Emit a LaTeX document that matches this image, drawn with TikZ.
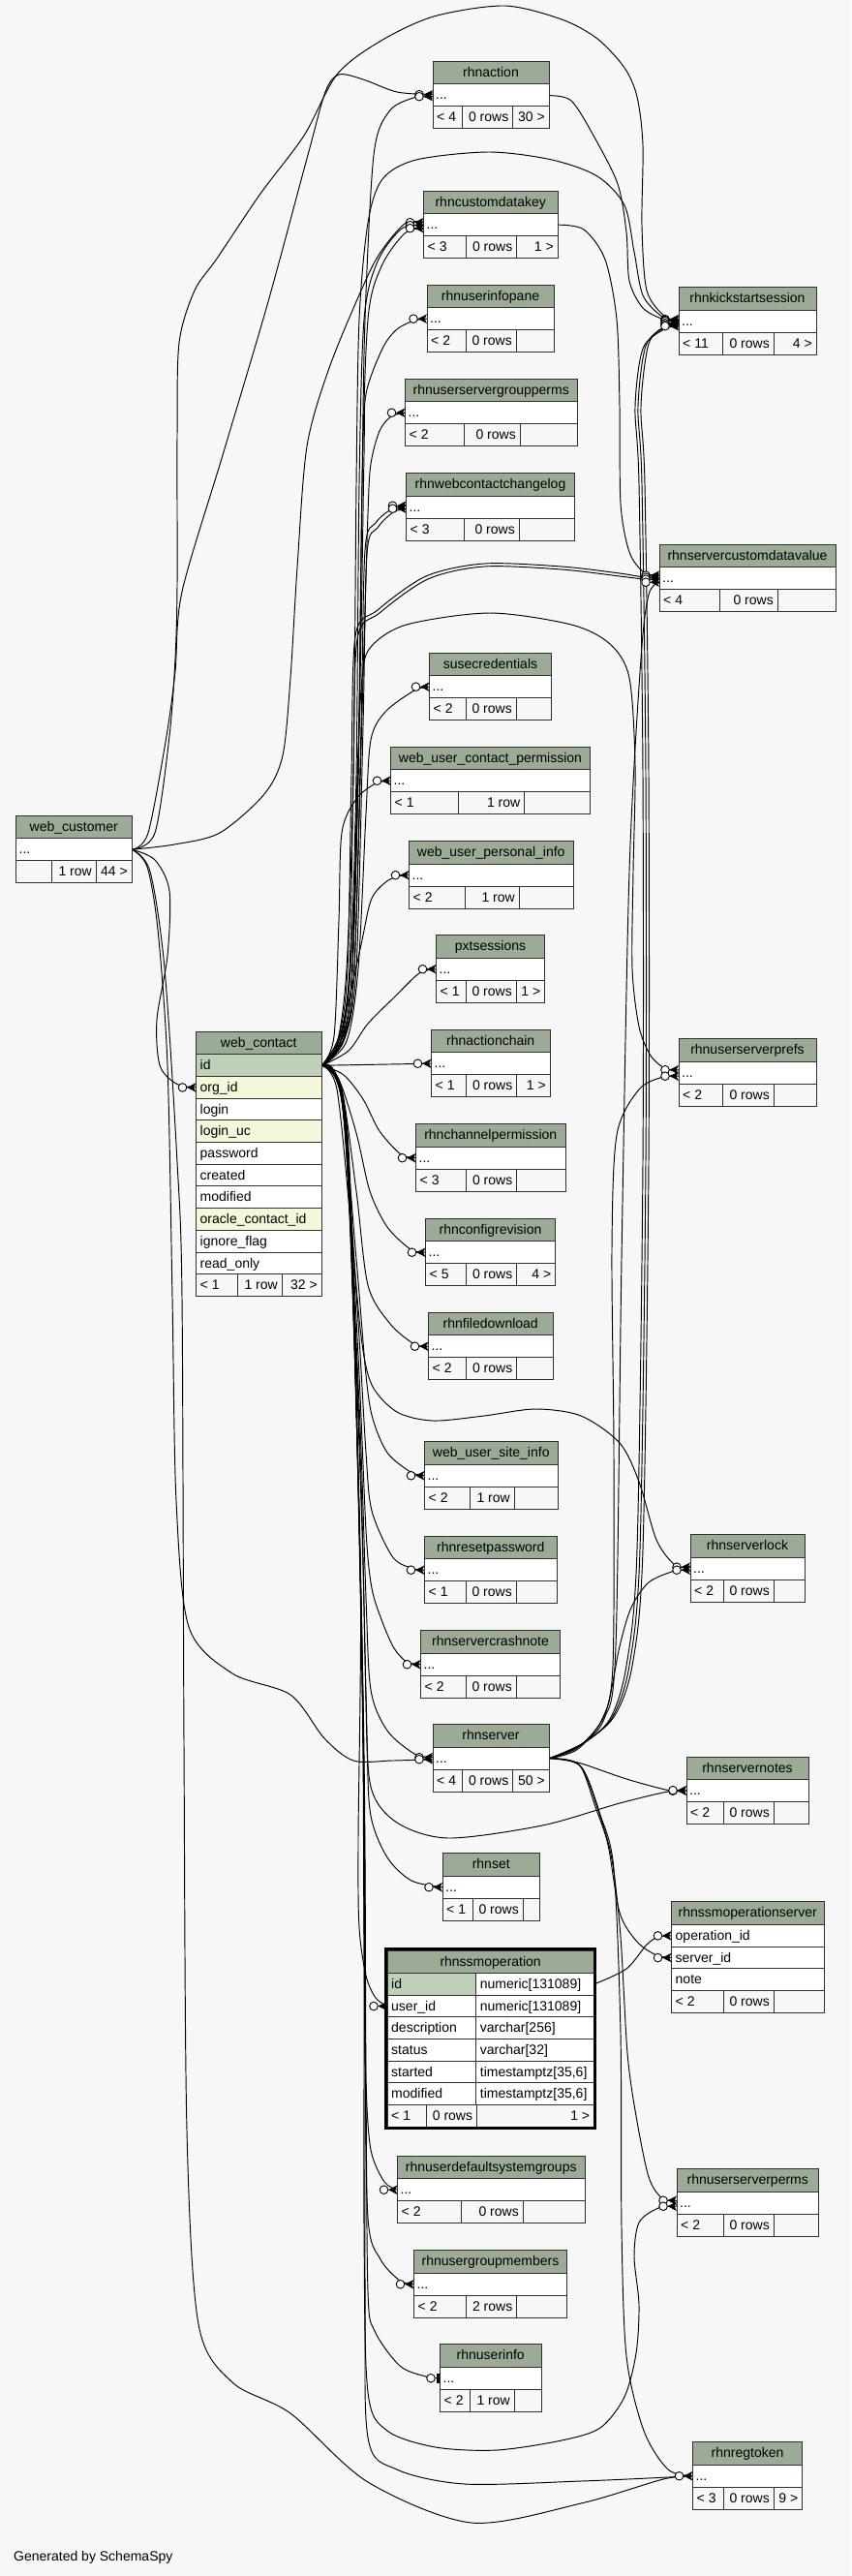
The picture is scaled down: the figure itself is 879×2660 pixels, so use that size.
\documentclass[tikz,border=0pt]{standalone}
\usepackage{fontspec}
\setmainfont{Liberation Sans}
\usetikzlibrary{calc}
\definecolor{bgc}{HTML}{F7F7F7}
\definecolor{hdrc}{HTML}{9BAB96}
\definecolor{pkc}{HTML}{BED1B8}
\definecolor{ixc}{HTML}{F4F7DA}
\definecolor{brd}{HTML}{303030}
\pgfdeclarelayer{back}
\pgfdeclarelayer{links}
\pgfsetlayers{back,links,main}
\tikzset{
  bd/.style={draw=brd, line width=1pt},
  txt/.style={inner sep=0pt, font=\fontsize{14}{16}\selectfont, text=black},
  rel/.style={draw=black, line width=0.95pt},
  crowo/.pic={\fill[black] (-9.5,0) -- (0,-4.8) -- (-2.5,0) -- (0,4.8) -- cycle;
              \draw[black,line width=0.9pt,fill=white] (-14,0) circle [radius=4.3pt];},
  teeo/.pic={\fill[black] (-3.2,-4.8) rectangle (-0.4,4.8);
             \draw[black,line width=0.9pt,fill=white] (-9.5,0) circle [radius=4.3pt];}
}
% id, x1, y1, x2, div1, div2, left, mid, right
\newcommand\mktable[9]{%
  \pgfmathsetmacro\tya{#3+23.5}%
  \pgfmathsetmacro\tyb{#3+46.5}%
  \pgfmathsetmacro\tyc{#3+69.5}%
  \pgfmathsetmacro\tw{#4-#2}%
  \pgfmathsetmacro\tmx{(#2+#4)/2}%
  \filldraw[bd,fill=hdrc] (#2,#3) rectangle (#4,\tya);
  \filldraw[bd,fill=white] (#2,\tya) rectangle (#4,\tyb);
  \filldraw[bd,fill=bgc] (#2,\tyb) rectangle (#4,\tyc);
  \draw[bd] (#5,\tyb) -- (#5,\tyc) (#6,\tyb) -- (#6,\tyc);
  \node[txt,anchor=base] (#1) at (\tmx,#3+16) {\detokenize{#1}};
  \node[inner sep=0pt,minimum width=\tw pt,minimum height=23pt,anchor=north west] (#1-r) at (#2,\tya) {};
  \node[txt,anchor=base west] (#1-d) at (#2+3,\tya+16) {...};
  \node[txt,anchor=base west] (#1-f1) at (#2+4,\tyb+16) {#7};
  \node[txt,anchor=base east] (#1-f2) at (#6-4,\tyb+16) {#8};
  \node[txt,anchor=base east] (#1-f3) at (#4-4,\tyb+16) {#9};
}
% name, x1, x2, ytop, fill, text
\newcommand\mkrow[6]{%
  \pgfmathsetmacro\tw{#3-#2}%
  \filldraw[bd,fill=#5] (#2,#4) rectangle (#3,#4+22.7);
  \node[inner sep=0pt,minimum width=\tw pt,minimum height=22.7pt,anchor=north west] (#1) at (#2,#4) {};
  \node[txt,anchor=base west] (#1-t) at (#2+4,#4+16) {#6};
}
\begin{document}
\begin{tikzpicture}[x=1pt,y=-1pt]
\useasboundingbox (0,0) rectangle (879,2660);
\begin{pgfonlayer}{back}
\fill[bgc] (0,0) rectangle (879,2660);
\end{pgfonlayer}

% ---------- tables ----------
\mktable{rhnaction}{447}{63.5}{567}{477}{529.5}{< 4}{0 rows}{30 >}
\mktable{rhncustomdatakey}{437.5}{197}{576}{481}{533.5}{< 3}{0 rows}{1 >}
\mktable{rhnuserinfopane}{441}{294}{572}{481}{533}{< 2}{0 rows}{}
\mktable{rhnuserservergroupperms}{418.5}{391}{596}{479}{537}{< 2}{0 rows}{}
\mktable{rhnwebcontactchangelog}{419.5}{488.5}{593.5}{479}{536}{< 3}{0 rows}{}
\mktable{rhnkickstartsession}{701}{296.5}{843}{746.5}{799}{< 11}{0 rows}{4 >}
\mktable{rhnservercustomdatavalue}{681}{562}{863}{743}{803}{< 4}{0 rows}{}
\mktable{susecredentials}{443.5}{674}{569.5}{481}{533}{< 2}{0 rows}{}
\mktable{web_user_contact_permission}{403.5}{771}{609.5}{473}{541.5}{< 1}{1 row}{}
\mktable{web_user_personal_info}{422.5}{868.5}{592}{480}{536}{< 2}{1 row}{}
\mktable{pxtsessions}{450.5}{965.5}{562.5}{481}{533}{< 1}{0 rows}{1 >}
\mktable{rhnactionchain}{445.5}{1063}{568}{481}{533.5}{< 1}{0 rows}{1 >}
\mktable{rhnuserserverprefs}{701}{1072.5}{843}{746.5}{799}{< 2}{0 rows}{}
\mktable{rhnchannelpermission}{429.5}{1160.5}{584}{481}{533.5}{< 3}{0 rows}{}
\mktable{rhnconfigrevision}{439.5}{1258}{573.5}{481}{533.5}{< 5}{0 rows}{4 >}
\mktable{rhnfiledownload}{442.5}{1355}{571}{481}{533.5}{< 2}{0 rows}{}
\mktable{web_user_site_info}{438.5}{1488.5}{576}{485.5}{531}{< 2}{1 row}{}
\mktable{rhnresetpassword}{438.5}{1586}{575}{481}{533}{< 1}{0 rows}{}
\mktable{rhnserverlock}{713}{1584.5}{831}{747}{799}{< 2}{0 rows}{}
\mktable{rhnservercrashnote}{434.5}{1683.5}{578.5}{481}{533}{< 2}{0 rows}{}
\mktable{rhnserver}{447}{1780.5}{567}{477.5}{529.5}{< 4}{0 rows}{50 >}
\mktable{rhnservernotes}{709}{1814}{835}{747}{799}{< 2}{0 rows}{}
\mktable{rhnset}{457}{1913.5}{557.5}{488}{540}{< 1}{0 rows}{}
\mktable{rhnuserdefaultsystemgroups}{410.5}{2226}{604}{476}{540}{< 2}{0 rows}{}
\mktable{rhnuserserverperms}{699}{2239.5}{845.5}{747}{799}{< 2}{0 rows}{}
\mktable{rhnusergroupmembers}{427.5}{2323.5}{585.5}{481}{533.5}{< 2}{2 rows}{}
\mktable{rhnuserinfo}{454.5}{2420.5}{559}{485.5}{531}{< 2}{1 row}{}
\mktable{rhnregtoken}{715.5}{2521.5}{828.5}{747}{799}{< 3}{0 rows}{9 >}
\mktable{web_customer}{16.5}{842}{136}{53}{99}{}{1 row}{44 >}

% web_contact
\filldraw[bd,fill=hdrc] (202.5,1065) rectangle (332,1088.7);
\node[txt,anchor=base] (web_contact) at (267.25,1081) {web\_contact};
\mkrow{web_contact-id}{202.5}{332}{1088.7}{pkc}{id}
\mkrow{web_contact-org}{202.5}{332}{1111.4}{ixc}{org\_id}
\mkrow{web_contact-login}{202.5}{332}{1134.1}{white}{login}
\mkrow{web_contact-loginuc}{202.5}{332}{1156.8}{ixc}{login\_uc}
\mkrow{web_contact-password}{202.5}{332}{1179.5}{white}{password}
\mkrow{web_contact-created}{202.5}{332}{1202.2}{white}{created}
\mkrow{web_contact-modified}{202.5}{332}{1224.9}{white}{modified}
\mkrow{web_contact-oracle}{202.5}{332}{1247.6}{ixc}{oracle\_contact\_id}
\mkrow{web_contact-ignore}{202.5}{332}{1270.3}{white}{ignore\_flag}
\mkrow{web_contact-readonly}{202.5}{332}{1293}{white}{read\_only}
\filldraw[bd,fill=bgc] (202.5,1315.7) rectangle (332,1338.4);
\draw[bd] (245,1315.7) -- (245,1338.4) (291,1315.7) -- (291,1338.4);
\node[txt,anchor=base west] (web_contact-f1) at (206.5,1331.7) {< 1};
\node[txt,anchor=base east] (web_contact-f2) at (287,1331.7) {1 row};
\node[txt,anchor=base east] (web_contact-f3) at (328,1331.7) {32 >};

% rhnssmoperationserver
\filldraw[bd,fill=hdrc] (693.5,1963.5) rectangle (851,1987.3);
\node[txt,anchor=base] (rhnssmoperationserver) at (772.25,1979.5) {rhnssmoperationserver};
\mkrow{rhnssmoperationserver-operation_id}{693.5}{851}{1987.3}{white}{operation\_id}
\mkrow{rhnssmoperationserver-server_id}{693.5}{851}{2010}{white}{server\_id}
\mkrow{rhnssmoperationserver-note}{693.5}{851}{2032.7}{white}{note}
\filldraw[bd,fill=bgc] (693.5,2055.4) rectangle (851,2078.1);
\draw[bd] (747,2055.4) -- (747,2078.1) (799,2055.4) -- (799,2078.1);
\node[txt,anchor=base west] (rhnssmoperationserver-f1) at (697.5,2071.4) {< 2};
\node[txt,anchor=base east] (rhnssmoperationserver-f2) at (795,2071.4) {0 rows};

% rhnssmoperation (focus table)
\filldraw[bd,fill=hdrc] (400,2014) rectangle (613.3,2037.3);
\node[txt,anchor=base] (rhnssmoperation) at (506.65,2030) {rhnssmoperation};
\mkrow{rhnssmoperation-id}{400}{491.7}{2037.3}{pkc}{id}
\mkrow{rhnssmoperation-id-ty}{491.7}{613.3}{2037.3}{white}{numeric[131089]}
\mkrow{rhnssmoperation-user_id}{400}{491.7}{2060}{white}{user\_id}
\mkrow{rhnssmoperation-user_id-ty}{491.7}{613.3}{2060}{white}{numeric[131089]}
\mkrow{rhnssmoperation-description}{400}{491.7}{2082.7}{white}{description}
\mkrow{rhnssmoperation-description-ty}{491.7}{613.3}{2082.7}{white}{varchar[256]}
\mkrow{rhnssmoperation-status}{400}{491.7}{2105.4}{white}{status}
\mkrow{rhnssmoperation-status-ty}{491.7}{613.3}{2105.4}{white}{varchar[32]}
\mkrow{rhnssmoperation-started}{400}{491.7}{2128.1}{white}{started}
\mkrow{rhnssmoperation-started-ty}{491.7}{613.3}{2128.1}{white}{timestamptz[35,6]}
\mkrow{rhnssmoperation-modified}{400}{491.7}{2150.8}{white}{modified}
\mkrow{rhnssmoperation-modified-ty}{491.7}{613.3}{2150.8}{white}{timestamptz[35,6]}
\filldraw[bd,fill=bgc] (400,2173.5) rectangle (613.3,2196.2);
\draw[bd] (440,2173.5) -- (440,2196.2) (492.3,2173.5) -- (492.3,2196.2);
\node[txt,anchor=base west] (rhnssmoperation-f1) at (404,2189.5) {< 1};
\node[txt,anchor=base east] (rhnssmoperation-f2) at (488.3,2189.5) {0 rows};
\node[txt,anchor=base east] (rhnssmoperation-f3) at (609.3,2189.5) {1 >};
\draw[black,line width=3pt] (398.3,2012.5) rectangle (614.8,2197.6);

\node[txt,anchor=base west] (gen) at (14,2644) {Generated by SchemaSpy};

% ---------- connectors ----------
\begin{pgfonlayer}{links}
% from web_customer
\draw[rel] plot[smooth] coordinates {(web_customer-r.east) (153,860) (172,760) (181,693) (188,611) (230,470) (276,315) (318,160) (336,95) (350,77) (375,82) (410,95) ([yshift=1pt]rhnaction-r.west)};
\draw[rel] plot[smooth] coordinates {(web_customer-r.east) (160,860) (175,760) (181,680) (183,604) (183,450) (185,354) (201,300) (224,267) (269,200) (314,140) (348,77) (392,43) (448,17) (521,6) (580,20) (617,40) (645,70) (658,100) (664,150) (663,233) (668,300) (687,327) ([yshift=2pt]rhnkickstartsession-r.west)};
\draw[rel] plot[smooth] coordinates {(web_customer-r.east) (180,872) (227,860) (273,820) (292,780) (300,700) (307,586) (317,461) (340,380) (373,300) (392,262) (418,231) ([yshift=2.5pt]rhncustomdatakey-r.west)};
\draw[rel] plot[smooth] coordinates {(web_customer-r.east) (160,888) (175,920) (173,987) (162,1053) (165,1100) (182,1119) (web_contact-org.west)};
\draw[rel] plot[smooth] coordinates {(web_customer-r.east) (152,895) (163,960) (173,1100) (178,1340) (182,1550) (195,1680) (240,1728) (300,1750) (335,1795) (365,1818) (405,1818) ([yshift=-1pt]rhnserver-r.west)};
\draw[rel] plot[smooth] coordinates {(web_customer-r.east) (155,900) (170,1000) (183,1200) (188,1340) (190,1800) (193,2200) (205,2400) (240,2460) (300,2492) (380,2563) (487,2605) (600,2585) (685,2560) (rhnregtoken-r.west)};
% from web_contact (up)
\draw[rel] plot[smooth] coordinates {(web_contact-id.east) (350,1080) (362,1000) (370,800) (374,500) (377,330) (386,160) (402,115) (427,101) ([yshift=-1pt]rhnaction-r.west)};
\draw[rel] plot[smooth] coordinates {(web_contact-id.east) (348,1078) (358,1000) (365,800) (368,500) (371,330) (380,230) (395,185) (430,165) (505,157) (570,165) (617,182) (645,212) (655,260) (664,305) (684,327) (rhnkickstartsession-r.west)};
\draw[rel] plot[smooth] coordinates {(web_contact-id.east) (352,1075) (362,1000) (368,800) (371,500) (376,330) (390,270) (415,236) ([yshift=-0.5pt]rhncustomdatakey-r.west)};
\draw[rel] plot[smooth] coordinates {(web_contact-id.east) (354,1075) (364,1000) (370,800) (374,500) (380,330) (394,275) (418,241) ([yshift=-3.5pt]rhncustomdatakey-r.west)};
\draw[rel] plot[smooth] coordinates {(web_contact-id.east) (352,1075) (364,1000) (372,700) (376,470) (378,407) (395,360) (410,340) (428,331) (rhnuserinfopane-r.west)};
\draw[rel] plot[smooth] coordinates {(web_contact-id.east) (355,1075) (366,1000) (375,700) (380,530) (383,479) (392,445) (404,430) (rhnuserservergroupperms-r.west)};
\draw[rel] plot[smooth] coordinates {(web_contact-id.east) (355,1072) (366,1000) (373,750) (377,568) (388,540) (404,526) ([yshift=1.5pt]rhnwebcontactchangelog-r.west)};
\draw[rel] plot[smooth] coordinates {(web_contact-id.east) (356,1072) (368,1000) (375,750) (379,572) (390,545) (406,529) ([yshift=-1.5pt]rhnwebcontactchangelog-r.west)};
\draw[rel] plot[smooth] coordinates {(web_contact-id.east) (350,1070) (359,1000) (363,800) (367,657) (390,630) (440,595) (500,582) (580,585) (640,592) (665,596) ([yshift=1pt]rhnservercustomdatavalue-r.west)};
\draw[rel] plot[smooth] coordinates {(web_contact-id.east) (351,1070) (361,1000) (365,800) (369,660) (392,633) (442,598) (500,585) (580,588) (640,595) (665,598) ([yshift=-1pt]rhnservercustomdatavalue-r.west)};
\draw[rel] plot[smooth] coordinates {(web_contact-id.east) (355,1068) (364,1000) (369,800) (374,700) (383,668) (420,645) (506,633) (590,645) (630,665) (650,700) (656,790) (654,900) (653,1000) (660,1060) (672,1090) (688,1104) ([yshift=3pt]rhnuserserverprefs-r.west)};
\draw[rel] plot[smooth] coordinates {(web_contact-id.east) (358,1075) (370,1000) (378,840) (383,764) (398,735) (428,713) (susecredentials-r.west)};
\draw[rel] plot[smooth] coordinates {(web_contact-id.east) (345,1070) (350,950) (353,860) (368,825) (388,809) (web_user_contact_permission-r.west)};
\draw[rel] plot[smooth] coordinates {(web_contact-id.east) (350,1075) (372,980) (383,930) (397,912) (410,905) (web_user_personal_info-r.west)};
\draw[rel] plot[smooth] coordinates {(web_contact-id.east) (360,1085) (380,1057) (407,1030) (433,1005) (pxtsessions-r.west)};
\draw[rel] (web_contact-id.east) -- (rhnactionchain-r.west);
% from web_contact (down)
\draw[rel] plot[smooth] coordinates {(web_contact-id.east) (355,1110) (375,1135) (392,1168) (414,1192) (rhnchannelpermission-r.west)};
\draw[rel] plot[smooth] coordinates {(web_contact-id.east) (350,1115) (368,1170) (382,1230) (400,1267) (424,1290) (rhnconfigrevision-r.west)};
\draw[rel] plot[smooth] coordinates {(web_contact-id.east) (352,1120) (368,1230) (380,1327) (403,1367) (428,1388) (rhnfiledownload-r.west)};
\draw[rel] plot[smooth] coordinates {(web_contact-id.east) (348,1125) (362,1260) (373,1380) (384,1430) (410,1458) (447,1467) (500,1462) (553,1455) (600,1462) (640,1490) (660,1530) (678,1590) (697,1616) ([yshift=1.5pt]rhnserverlock-r.west)};
\draw[rel] plot[smooth] coordinates {(web_contact-id.east) (352,1130) (368,1300) (378,1420) (385,1465) (400,1500) (424,1520) (web_user_site_info-r.west)};
\draw[rel] plot[smooth] coordinates {(web_contact-id.east) (353,1135) (369,1350) (378,1500) (384,1560) (405,1607) (424,1619) (rhnresetpassword-r.west)};
\draw[rel] plot[smooth] coordinates {(web_contact-id.east) (354,1140) (370,1400) (378,1580) (384,1640) (395,1675) (407,1702) (420,1716) (rhnservercrashnote-r.west)};
\draw[rel] plot[smooth] coordinates {(web_contact-id.east) (354,1145) (371,1450) (378,1650) (383,1745) (400,1787) (428,1811) ([yshift=1pt]rhnserver-r.west)};
\draw[rel] plot[smooth] coordinates {(web_contact-id.east) (355,1150) (372,1500) (378,1750) (383,1845) (410,1882) (463,1898) (560,1885) (640,1862) (690,1850) (rhnservernotes-r.west)};
\draw[rel] plot[smooth] coordinates {(web_contact-id.east) (356,1155) (373,1550) (379,1800) (383,1875) (400,1918) (425,1942) (rhnset-r.west)};
\draw[rel] plot[smooth] coordinates {(web_contact-id.east) (356,1160) (372,1600) (370,1900) (371,1990) (378,2040) (388,2063) (rhnssmoperation-user_id.west)};
\draw[rel] plot[smooth] coordinates {(web_contact-id.east) (357,1165) (373,1650) (376,2000) (378,2150) (383,2220) (397,2253) (rhnuserdefaultsystemgroups-r.west)};
\draw[rel] plot[smooth] coordinates {(web_contact-id.east) (358,1170) (374,1700) (377,2100) (380,2290) (393,2333) (413,2355) (rhnusergroupmembers-r.west)};
\draw[rel] plot[smooth] coordinates {(web_contact-id.east) (358,1175) (375,1750) (378,2150) (380,2366) (387,2407) (413,2443) (440,2454) (rhnuserinfo-r.west)};
\draw[rel] plot[smooth] coordinates {(web_contact-id.east) (359,1180) (375,1800) (376,2300) (380,2470) (400,2510) (450,2527) (513,2530) (580,2520) (620,2507) (645,2475) (657,2430) (660,2380) (655,2330) (660,2295) (680,2280) ([yshift=-3.5pt]rhnuserserverperms-r.west)};
\draw[rel] plot[smooth] coordinates {(web_contact-id.east) (360,1185) (376,1850) (377,2350) (380,2517) (410,2550) (480,2565) (600,2562) (690,2558) (rhnregtoken-r.west)};
% from rhnserver
\draw[rel] plot[smooth] coordinates {(rhnserver-r.east) (597,1806) (625,1770) (640,1700) (652,1660) (670,1634) (697,1622) ([yshift=-1.5pt]rhnserverlock-r.west)};
\draw[rel] plot[smooth] coordinates {(rhnserver-r.east) (596,1805) (622,1775) (633,1720) (634,1500) (632,1290) (637,1172) (660,1125) (685,1112) ([yshift=-3.5pt]rhnuserserverprefs-r.west)};
\draw[rel] plot[smooth] coordinates {(rhnserver-r.east) (598,1803) (624,1775) (636,1700) (642,1300) (650,900) (662,680) (670,614) ([yshift=-4pt]rhnservercustomdatavalue-r.west)};
\draw[rel] plot[smooth] coordinates {(rhnserver-r.east) (600,1802) (630,1775) (647,1720) (658,1600) (664,1200) (664,800) (660,500) (656,420) (664,360) (686,340) ([yshift=-5pt]rhnkickstartsession-r.west)};
\draw[rel] plot[smooth] coordinates {(rhnserver-r.east) (601,1801) (632,1774) (650,1720) (661,1600) (667,1200) (667,800) (663,500) (659,420) (667,357) (687,338) ([yshift=-3.5pt]rhnkickstartsession-r.west)};
\draw[rel] plot[smooth] coordinates {(rhnserver-r.east) (602,1800) (634,1773) (653,1720) (664,1600) (670,1200) (670,800) (666,500) (662,420) (670,355) (688,336) ([yshift=-2pt]rhnkickstartsession-r.west)};
\draw[rel] plot[smooth] coordinates {(rhnserver-r.east) (597,1820) (647,1837) (692,1849) ([yshift=0.5pt]rhnservernotes-r.west)};
\draw[rel] plot[smooth] coordinates {(rhnserver-r.east) (598,1822) (615,1866) (628,1905) (640,1975) (658,2005) (678,2019) (rhnssmoperationserver-server_id.west)};
\draw[rel] plot[smooth] coordinates {(rhnserver-r.east) (599,1823) (618,1870) (632,1920) (641,2000) (648,2120) (657,2185) (670,2248) (684,2270) ([yshift=2.5pt]rhnuserserverperms-r.west)};
\draw[rel] plot[smooth] coordinates {(rhnserver-r.east) (600,1824) (620,1874) (634,1930) (641,2100) (642,2300) (647,2433) (665,2510) (690,2550) (rhnregtoken-r.west)};
% others
\draw[rel] plot[smooth] coordinates {(rhnaction-r.east) (590,104) (613,140) (638,190) (647,240) (650,290) (664,318) (686,330) ([yshift=1pt]rhnkickstartsession-r.west)};
\draw[rel] plot[smooth] coordinates {(rhncustomdatakey-r.east) (603,237) (625,268) (637,330) (640,420) (641,520) (650,570) (665,591) ([yshift=3pt]rhnservercustomdatavalue-r.west)};
\draw[rel] plot[smooth] coordinates {(rhnssmoperation-id-ty.east) (647,2033) (668,2008) (680,2000) (rhnssmoperationserver-operation_id.west)};
\end{pgfonlayer}

% ---------- markers ----------
\path ([yshift=1pt]rhnaction-r.west) pic {crowo} ([yshift=-1pt]rhnaction-r.west) pic {crowo};
\path ([yshift=2pt]rhnkickstartsession-r.west) pic {crowo} ([yshift=1pt]rhnkickstartsession-r.west) pic {crowo}
      (rhnkickstartsession-r.west) pic {crowo} ([yshift=-2pt]rhnkickstartsession-r.west) pic {crowo}
      ([yshift=-3.5pt]rhnkickstartsession-r.west) pic {crowo} ([yshift=-5pt]rhnkickstartsession-r.west) pic {crowo};
\path ([yshift=2.5pt]rhncustomdatakey-r.west) pic {crowo} ([yshift=-0.5pt]rhncustomdatakey-r.west) pic {crowo} ([yshift=-3.5pt]rhncustomdatakey-r.west) pic {crowo};
\path (rhnuserinfopane-r.west) pic {crowo} (rhnuserservergroupperms-r.west) pic {crowo};
\path ([yshift=1.5pt]rhnwebcontactchangelog-r.west) pic {crowo} ([yshift=-1.5pt]rhnwebcontactchangelog-r.west) pic {crowo};
\path ([yshift=3pt]rhnservercustomdatavalue-r.west) pic {crowo} ([yshift=1pt]rhnservercustomdatavalue-r.west) pic {crowo}
      ([yshift=-1pt]rhnservercustomdatavalue-r.west) pic {crowo} ([yshift=-4pt]rhnservercustomdatavalue-r.west) pic {crowo};
\path (susecredentials-r.west) pic {crowo} (web_user_contact_permission-r.west) pic {crowo}
      (web_user_personal_info-r.west) pic {crowo} (pxtsessions-r.west) pic {crowo}
      (rhnactionchain-r.west) pic {crowo} (rhnchannelpermission-r.west) pic {crowo}
      (rhnconfigrevision-r.west) pic {crowo} (rhnfiledownload-r.west) pic {crowo}
      (web_user_site_info-r.west) pic {crowo} (rhnresetpassword-r.west) pic {crowo}
      (rhnservercrashnote-r.west) pic {crowo} (rhnset-r.west) pic {crowo};
\path ([yshift=3pt]rhnuserserverprefs-r.west) pic {crowo} ([yshift=-3.5pt]rhnuserserverprefs-r.west) pic {crowo};
\path ([yshift=1.5pt]rhnserverlock-r.west) pic {crowo} ([yshift=-1.5pt]rhnserverlock-r.west) pic {crowo};
\path ([yshift=1pt]rhnserver-r.west) pic {crowo} ([yshift=-1pt]rhnserver-r.west) pic {crowo};
\path (rhnservernotes-r.west) pic {crowo} ([yshift=0.5pt]rhnservernotes-r.west) pic {crowo};
\path (rhnssmoperationserver-operation_id.west) pic {crowo} (rhnssmoperationserver-server_id.west) pic {crowo};
\path (rhnssmoperation-user_id.west) pic {crowo};
\path (rhnuserdefaultsystemgroups-r.west) pic {crowo} (rhnusergroupmembers-r.west) pic {crowo};
\path (rhnuserinfo-r.west) pic {teeo};
\path ([yshift=2.5pt]rhnuserserverperms-r.west) pic {crowo} ([yshift=-3.5pt]rhnuserserverperms-r.west) pic {crowo};
\path (rhnregtoken-r.west) pic {crowo};
\path (web_contact-org.west) pic {crowo};
\end{tikzpicture}
\end{document}
